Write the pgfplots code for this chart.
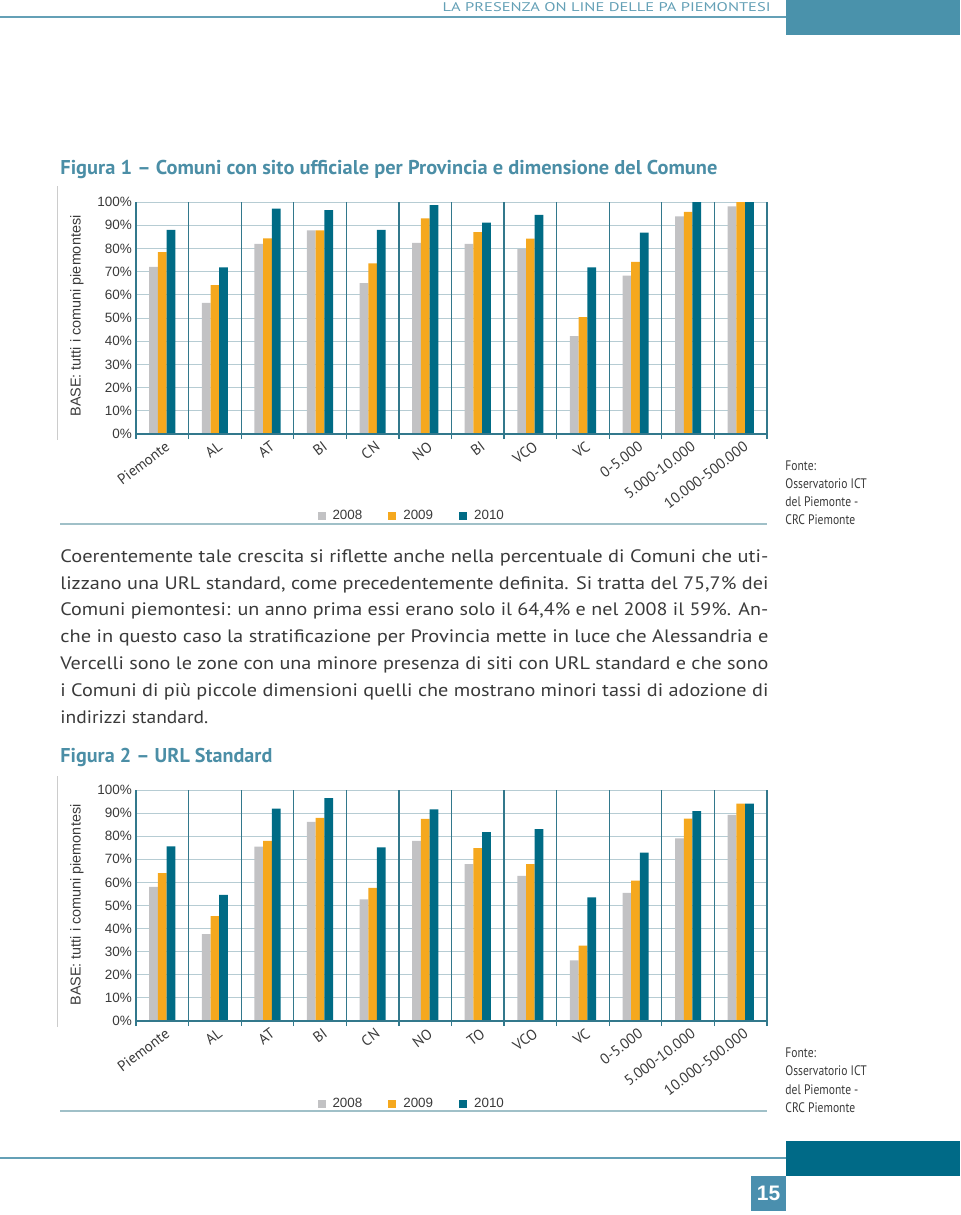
\documentclass[border=0pt]{standalone}
\usepackage{graphicx}
\usepackage{pgfplots}
\pgfplotsset{compat=1.18}
\usepackage{fontspec}
\setmainfont{PT Sans}
\newfontfamily\libsans{Liberation Sans}
\definecolor{cA}{RGB}{194,194,196}
\definecolor{cB}{RGB}{245,168,30}
\definecolor{cC}{RGB}{0,107,133}
\definecolor{ttl}{RGB}{75,142,166}
\definecolor{gridc}{RGB}{182,204,211}
\definecolor{vline}{RGB}{50,120,140}
\definecolor{sepc}{RGB}{160,192,200}
\definecolor{txt}{RGB}{58,58,58}
\definecolor{hdr}{RGB}{100,160,182}
\definecolor{blockA}{RGB}{74,146,171}
\definecolor{blockB}{RGB}{0,106,135}
\definecolor{boxc}{RGB}{74,143,174}
\pgfplotsset{bars/.style={
  scale only axis, width=315.5pt, anchor=south west,
  xmin=-0.5, xmax=11.5, ymin=0, ymax=100,
  ybar=0pt, bar width=4.35pt,
  axis line style={draw=none},
  xtick={0,...,11},
  x tick label style={font=\fontsize{7.4}{8}\selectfont, text=txt, rotate=37, anchor=north east, inner sep=0.5pt, xshift=-0.5pt, yshift=-2.5pt},
  ytick={0,10,...,100},
  yticklabels={0\%,10\%,20\%,30\%,40\%,50\%,60\%,70\%,80\%,90\%,100\%},
  y tick label style={font=\libsans\fontsize{6.75}{8}\selectfont, text=txt, inner sep=0pt, xshift=-1.8pt},
  major tick length=0pt,
  xtick pos=left, ytick pos=left,
  ymajorgrids, major grid style={draw=gridc, line width=0.5pt},
  extra x ticks={-0.5,0.5,...,11.5}, extra x tick labels={},
  extra x tick style={grid=major, major grid style={draw=vline, line width=0.6pt},
     tick align=outside, major tick length=2.6pt, tick style={draw=vline, line width=0.6pt}},
  legend columns=3,
  legend image code/.code={\fill[##1] (0pt,-2pt) rectangle (4pt,2pt);},
  legend style={draw=none, fill=none, anchor=west, inner sep=0pt,
     font=\libsans\fontsize{6.7}{7}\selectfont, text=txt,
     nodes={inner sep=0pt},
     /tikz/every odd column/.append style={column sep=3.5pt},
     /tikz/every even column/.append style={column sep=13pt}},
}}
\begin{document}
\begin{tikzpicture}
\useasboundingbox (0,0) rectangle (480pt,-607.5pt);
\begin{scope}[x=0.5pt,y=-0.5pt]
 \coordinate (A1) at (136,434);
 \coordinate (A2) at (136,1021);
 % header
 \fill[blockA] (786,0) rectangle (960,35);
 \draw[hdr, line width=1pt] (0,17) -- (786,17);
 \node[anchor=base east, inner sep=0, text=hdr] at (771,11.5) {\resizebox{164pt}{\height}{\fontsize{6.3}{7}\selectfont LA PRESENZA ON LINE DELLE PA PIEMONTESI}};
 % titles
 \node[anchor=base west, inner sep=0, text=ttl] at (60,174) {\resizebox{328.5pt}{\height}{\fontsize{10}{12}\selectfont\bfseries Figura 1 – Comuni con sito ufficiale per Provincia e dimensione del Comune}};
 \node[anchor=base west, inner sep=0, text=ttl] at (60,762) {\resizebox{106pt}{\height}{\fontsize{10}{12}\selectfont\bfseries Figura 2 – URL Standard}};
 % side lines
 \draw[black!20, line width=0.5pt] (57,186) -- (57,440);
 \draw[black!20, line width=0.5pt] (57,776) -- (57,1027);
 % base labels
 \node[rotate=90, text=txt, font=\libsans\fontsize{7.2}{8}\selectfont] at (77,316) {BASE: tutti i comuni piemontesi};
 \node[rotate=90, text=txt, font=\libsans\fontsize{7.2}{8}\selectfont] at (77,905) {BASE: tutti i comuni piemontesi};
 % separators
 \draw[sepc, line width=1pt] (60,523.5) -- (767,523.5);
 \draw[sepc, line width=1pt] (60,1111) -- (767,1111);
 % fonte
 \foreach \t/\yy in {Fonte:/470, Osservatorio ICT/488, del Piemonte -/506, CRC Piemonte/524}
   \node[anchor=base west, inner sep=0, text=txt] at (785,\yy) {\scalebox{0.84}[1]{\fontsize{6.9}{8}\selectfont \t}};
 \foreach \t/\yy in {Fonte:/1057, Osservatorio ICT/1075.5, del Piemonte -/1094, CRC Piemonte/1112.5}
   \node[anchor=base west, inner sep=0, text=txt] at (785,\yy) {\scalebox{0.84}[1]{\fontsize{6.9}{8}\selectfont \t}};
 % body text
 \foreach \t [count=\i from 0] in {
   {Coerentemente tale crescita si riflette anche nella percentuale di Comuni che uti-},
   {lizzano una URL standard, come precedentemente definita. Si tratta del 75,7\% dei},
   {Comuni piemontesi: un anno prima essi erano solo il 64,4\% e nel 2008 il 59\%. An-},
   {che in questo caso la stratificazione per Provincia mette in luce che Alessandria e},
   {Vercelli sono le zone con una minore presenza di siti con URL standard e che sono},
   {i Comuni di più piccole dimensioni quelli che mostrano minori tassi di adozione di}}
   \node[anchor=base west, inner sep=0, text=txt] at (60,562.3+26.8*\i) {\resizebox{354pt}{\height}{\fontsize{9}{11}\selectfont \t}};
 \node[anchor=base west, inner sep=0, text=txt] at (60,723.1) {\resizebox{74pt}{\height}{\fontsize{9}{11}\selectfont indirizzi standard.}};
 % footer
 \draw[hdr, line width=1pt] (0,1158) -- (786,1158);
 \fill[blockB] (786,1141) rectangle (960,1176);
 \fill[boxc] (751,1176) rectangle (786,1211);
 \node[text=white, font=\libsans\bfseries\fontsize{10.5}{12}\selectfont] at (768.5,1193.5) {15};
\end{scope}

\begin{axis}[bars, at={(A1)}, height=116pt,
  xticklabels={Piemonte,AL,AT,BI,CN,NO,BI,VCO,VC,0-5.000,5.000-10.000,10.000-500.000},
  legend style={at={(rel axis cs:0.287,-0.353)}}]
\addplot[fill=cA, draw=none] coordinates {(0,72) (1,56.5) (2,82) (3,87.8) (4,65) (5,82.4) (6,82) (7,79.7) (8,42.2) (9,68.3) (10,93.8) (11,98.1)};
\addplot[fill=cB, draw=none] coordinates {(0,78.4) (1,64.2) (2,84.3) (3,87.8) (4,73.5) (5,92.9) (6,87) (7,84.2) (8,50.4) (9,74.2) (10,95.7) (11,100)};
\addplot[fill=cC, draw=none] coordinates {(0,88) (1,71.8) (2,97.1) (3,96.5) (4,88) (5,98.7) (6,91.1) (7,94.4) (8,71.8) (9,86.8) (10,100) (11,100)};
\draw[vline, line width=0.7pt] (axis cs:-0.5,0) -- (axis cs:11.5,0);
\legend{2008,2009,2010}
\end{axis}

\begin{axis}[bars, at={(A2)}, height=115.5pt,
  xticklabels={Piemonte,AL,AT,BI,CN,NO,TO,VCO,VC,0-5.000,5.000-10.000,10.000-500.000},
  legend style={at={(rel axis cs:0.287,-0.359)}}]
\addplot[fill=cA, draw=none] coordinates {(0,58.1) (1,37.6) (2,75.5) (3,86.2) (4,52.7) (5,78) (6,67.9) (7,62.8) (8,26.2) (9,55.5) (10,79.1) (11,89.2)};
\addplot[fill=cB, draw=none] coordinates {(0,64) (1,45.4) (2,78) (3,87.9) (4,57.6) (5,87.5) (6,74.8) (7,67.9) (8,32.6) (9,60.8) (10,87.6) (11,94.1)};
\addplot[fill=cC, draw=none] coordinates {(0,75.6) (1,54.6) (2,91.9) (3,96.5) (4,75.2) (5,91.6) (6,81.8) (7,83.1) (8,53.5) (9,72.9) (10,90.9) (11,94.1)};
\draw[vline, line width=0.7pt] (axis cs:-0.5,0) -- (axis cs:11.5,0);
\legend{2008,2009,2010}
\end{axis}
\end{tikzpicture}
\end{document}
